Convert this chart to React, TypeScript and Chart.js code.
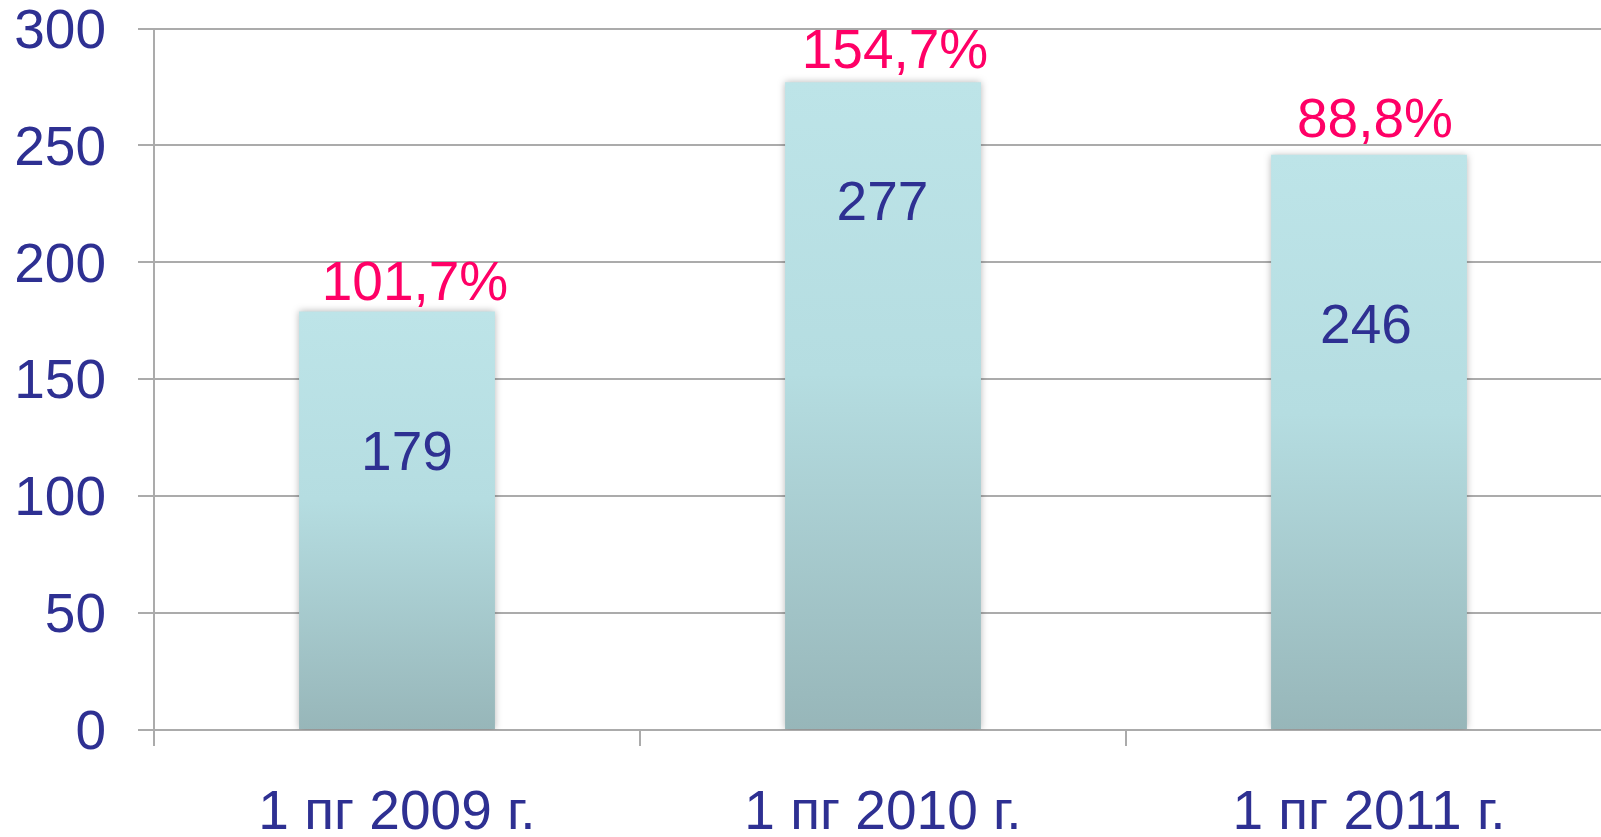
import React, { useEffect, useRef } from "react";
import { Chart, registerables } from "chart.js";

Chart.register(...registerables);

const categories: string[] = ["1 пг 2009 г.", "1 пг 2010 г.", "1 пг 2011 г."];
const values: number[] = [179, 277, 246];
const growthLabels: string[] = ["101,7%", "154,7%", "88,8%"];
const yTicks: number[] = [0, 50, 100, 150, 200, 250, 300];
// level (in axis units) where the value label sits inside each bar
const innerLabelLevel: number[] = [117.5, 224.7, 172];

// small text nudges (pixels) to mimic the original label placement
const growthShiftX: number[] = [18, 12, 6];
const growthGap: number[] = [11, 14, 18];
const innerShiftX: number[] = [10, -0.5, -3];

const NAVY = "#2E3092";
const PINK = "#FF0066";
const GRID = "#ABABAB";
const FONT = "'Liberation Sans', Arial, sans-serif";
const FSIZE = 55;

const labelsPlugin = {
  id: "barLabels",
  beforeDatasetsDraw(chart: any) {
    const ctx = chart.ctx;
    ctx.save();
    ctx.shadowColor = "rgba(0,0,0,0.28)";
    ctx.shadowBlur = 7;
    ctx.shadowOffsetX = 0;
    ctx.shadowOffsetY = 0;
  },
  afterDatasetsDraw(chart: any) {
    const ctx = chart.ctx;
    ctx.restore();
    const meta = chart.getDatasetMeta(0);
    const yScale = chart.scales.y;
    ctx.save();
    ctx.font = `${FSIZE}px ${FONT}`;
    ctx.textAlign = "center";
    meta.data.forEach((bar: any, i: number) => {
      const top = yScale.getPixelForValue(values[i]);
      ctx.fillStyle = PINK;
      ctx.textBaseline = "alphabetic";
      ctx.fillText(growthLabels[i], bar.x + growthShiftX[i], top - growthGap[i]);
      ctx.fillStyle = NAVY;
      ctx.textBaseline = "middle";
      ctx.fillText(String(values[i]), bar.x + innerShiftX[i], yScale.getPixelForValue(innerLabelLevel[i]));
    });
    ctx.restore();
  },
};

export default function App() {
  const ref = useRef<HTMLCanvasElement | null>(null);

  useEffect(() => {
    if (!ref.current) return;
    const chart = new Chart(ref.current, {
      type: "bar",
      data: {
        labels: categories,
        datasets: [
          {
            data: values,
            backgroundColor: (c: any) => {
              const ch = c.chart;
              const area = ch.chartArea;
              if (!area || c.raw === undefined) return "#B0D4D8";
              const top = ch.scales.y.getPixelForValue(c.raw);
              const g = ch.ctx.createLinearGradient(0, top, 0, area.bottom);
              g.addColorStop(0, "#BDE4E8");
              g.addColorStop(0.45, "#B5DDE1");
              g.addColorStop(1, "#97B6B9");
              return g;
            },
            borderWidth: 0,
            categoryPercentage: 1,
            barPercentage: 0.403,
          },
        ],
      },
      options: {
        responsive: false,
        animation: false,
        events: [],
        layout: { autoPadding: false, padding: { top: 28.5, left: 0, right: 0, bottom: 0 } },
        plugins: {
          legend: { display: false },
          tooltip: { enabled: false },
          title: { display: false },
        },
        scales: {
          x: {
            offset: true,
            grid: {
              offset: true,
              drawOnChartArea: false,
              drawTicks: true,
              tickLength: 16,
              color: GRID,
              lineWidth: 2,
            },
            border: { display: false },
            ticks: {
              color: NAVY,
              font: { family: FONT, size: FSIZE },
              padding: 35,
              autoSkip: false,
              maxRotation: 0,
            },
            afterFit: (s: any) => {
              s.height = 107;
              s.paddingLeft = 0;
              s.paddingRight = 0;
            },
          },
          y: {
            min: 0,
            max: 300,
            afterBuildTicks: (s: any) => {
              s.ticks = yTicks.map((v) => ({ value: v }));
            },
            grid: {
              drawTicks: true,
              tickLength: 16,
              color: GRID,
              lineWidth: 2,
            },
            border: { display: true, color: GRID, width: 2 },
            ticks: {
              color: NAVY,
              font: { family: FONT, size: FSIZE },
              padding: 32,
              labelOffset: 4,
            },
            afterFit: (s: any) => {
              s.width = 154;
              s.paddingTop = 0;
              s.paddingBottom = 0;
            },
          },
        },
      },
      plugins: [labelsPlugin],
    });
    return () => chart.destroy();
  }, []);

  return (
    <div
      style={{
        position: "fixed",
        left: 0,
        top: 0,
        width: 1601,
        height: 837,
        overflow: "hidden",
        background: "#FFFFFF",
      }}
    >
      <canvas ref={ref} width={1612} height={837} style={{ width: 1612, height: 837, display: "block" }} />
    </div>
  );
}
